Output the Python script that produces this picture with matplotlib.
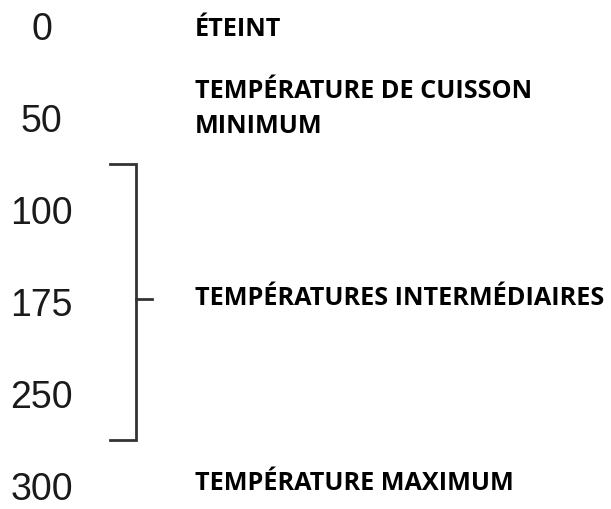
import matplotlib
matplotlib.use("Agg")
import matplotlib.pyplot as plt

# dial settings and their meaning
reglages = [0, 50, 100, 175, 250, 300]
libelles = ["ÉTEINT", "TEMPÉRATURE DE CUISSON\nMINIMUM", None, None, None, "TEMPÉRATURE MAXIMUM"]
groupe_label = "TEMPÉRATURES INTERMÉDIAIRES"
groupe = [2, 4]  # first and last row of the bracketed group

fig = plt.figure(figsize=(6.11, 5.10), dpi=100)
ax = fig.add_axes([0, 0, 1, 1])
ax.set_xlim(0, 611)
ax.set_ylim(510, 0)
ax.axis("off")

y0, pas = 27, 92.0
rows = [y0 + pas * i for i in range(len(reglages))]

for y, v in zip(rows, reglages):
    ax.text(41.5, y + 13.5, str(v), ha="center", va="baseline", fontsize=27,
            family="Liberation Sans", color="#1a1a1a")

lab_kw = dict(ha="left", va="baseline", fontsize=18.2, family="Open Sans",
              fontweight="bold", color="black")
decalage = [9, -21, 0, 0, 0, 3]  # baseline offset of each label vs its number
for y, lab, d in zip(rows, libelles, decalage):
    if lab is None:
        continue
    for k, ligne in enumerate(lab.split("\n")):
        ax.text(195, y + d + 35 * k, ligne, **lab_kw)

# bracket around the intermediate settings
top = rows[groupe[0]] - 0.5 * pas
bot = rows[groupe[1]] + 0.5 * pas
mid = rows[(groupe[0] + groupe[1]) // 2] - 3
bx = 136
ax.plot([110, bx, bx, 110], [top, top, bot, bot], color="#333333", lw=2,
        solid_joinstyle="miter")
ax.plot([bx, 152], [mid, mid], color="#333333", lw=2)
ax.text(195, mid + 5, groupe_label, **lab_kw)

fig.savefig("out.png", dpi=100)
